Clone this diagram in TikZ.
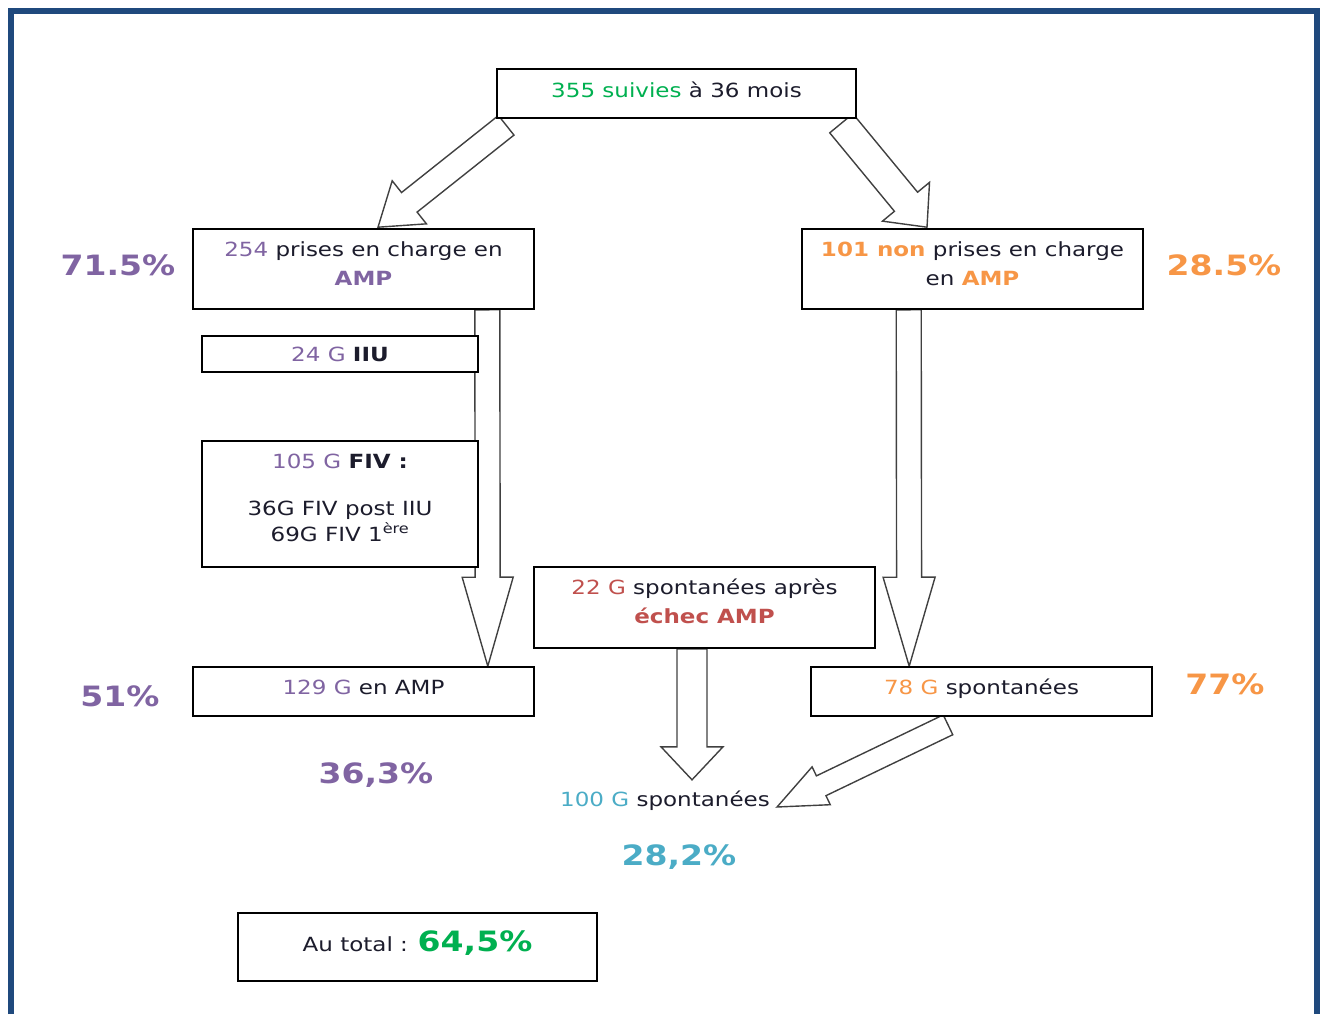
\documentclass[tikz,border=0pt]{standalone}
\usepackage{fontspec}
\setmainfont{DejaVu Sans}[FakeStretch=1.18]
\usetikzlibrary{calc}
\pgfdeclarelayer{fond}
\pgfsetlayers{fond,main}

\definecolor{cadre}{HTML}{1F497D}
\definecolor{violet}{HTML}{8064A2}
\definecolor{orange}{HTML}{F79646}
\definecolor{vert}{HTML}{00B050}
\definecolor{rouge}{HTML}{C0504D}
\definecolor{cyan}{HTML}{4BACC6}
\definecolor{sombre}{HTML}{1C1C2C}

\newcommand\corps{\fontsize{19.5}{29}\selectfont}
\newcommand\grand{\fontsize{28}{32}\selectfont\bfseries}
% box text sits a little above the middle
\newcommand\haut[2][4pt]{\raisebox{#1}[\height][\depth]{\begin{tabular}{@{}c@{}}#2\end{tabular}}}

% tail, tip, half shaft, half head, head length
\newcommand\blocfleche[5]{%
  \coordinate (bf-t) at #1;
  \coordinate (bf-h) at #2;
  \coordinate (bf-n) at ($(bf-h)!#5!(bf-t)$);
  \draw[fleche] ($(bf-t)!#3!90:(bf-h)$) -- ($(bf-n)!#3!90:(bf-h)$)
    -- ($(bf-n)!#4!90:(bf-h)$) -- (bf-h) -- ($(bf-n)!#4!-90:(bf-h)$)
    -- ($(bf-n)!#3!-90:(bf-h)$) -- ($(bf-t)!#3!-90:(bf-h)$) -- cycle;}

\tikzset{
  boite/.style={draw=black, line width=1.6pt, fill=white, inner sep=0pt,
    text=sombre, font=\corps},
  pourcent/.style={anchor=base, inner sep=0pt, font=\grand},
  fleche/.style={draw=black!75, line width=1.4pt, line join=miter}
}

\begin{document}
\begin{tikzpicture}[x=1pt, y=-1pt]
  \useasboundingbox (0,0) rectangle (1324,1014);
  \draw[cadre, line width=6pt] (11,1014) -- (11,11.5) -- (1317,11.5) -- (1317,1014);

  % boxes
  \node[boite, minimum width=359pt, minimum height=49pt] (suivi) at (676.5,93.5)
    {\haut[1.5pt]{\textcolor{vert}{355 suivies} à 36 mois}};
  \node[boite, minimum width=341pt, minimum height=80pt] (amp) at (363.5,269)
    {\haut{\textcolor{violet}{254} prises en charge en\\\textcolor{violet}{\bfseries AMP}}};
  \node[boite, minimum width=341pt, minimum height=80pt] (nonamp) at (972.5,269)
    {\haut{\textcolor{orange}{\bfseries 101 non} prises en charge\\en \textcolor{orange}{\bfseries AMP}}};
  \node[boite, minimum width=276pt, minimum height=36pt] (iiu) at (340,354)
    {\textcolor{violet}{24 G} \textbf{IIU}};
  \node[boite, minimum width=276pt, minimum height=126pt, font=\fontsize{19.5}{24}\selectfont] (fiv) at (340,504)
    {\haut{\textcolor{violet}{105 G} \textbf{FIV :}\\[23pt]36G FIV post IIU\\69G FIV 1\textsuperscript{ère}}};
  \node[boite, minimum width=341pt, minimum height=81pt] (echec) at (704.5,607.5)
    {\haut{\textcolor{rouge}{22 G} spontanées après\\\textcolor{rouge}{\bfseries échec AMP}}};
  \node[boite, minimum width=341pt, minimum height=49pt] (amp129) at (363.5,691.5)
    {\haut[3pt]{\textcolor{violet}{129 G} en AMP}};
  \node[boite, minimum width=341pt, minimum height=49pt] (spont78) at (981.5,691.5)
    {\haut[3pt]{\textcolor{orange}{78 G} spontanées}};
  \node[anchor=base, inner sep=0pt, text=sombre, font=\corps] (spont100) at (665,806.5)
    {\textcolor{cyan}{100 G} spontanées};
  \node[boite, minimum width=359pt, minimum height=68pt] (total) at (417.5,947)
    {\haut[2pt]{Au total : {\grand\color{vert}64,5\%}}};

  % percentages
  \node[pourcent, violet] (p715) at (118,275.5) {71.5\%};
  \node[pourcent, orange] (p285) at (1224,275) {28.5\%};
  \node[pourcent, violet] (p51) at (120,706.5) {51\%};
  \node[pourcent, orange] (p77) at (1225,694.5) {77\%};
  \node[pourcent, violet] (p363) at (376,783.5) {36,3\%};
  \node[pourcent, cyan] (p282) at (679,865) {28,2\%};

  % block arrows
  \begin{pgfonlayer}{fond}
    \blocfleche{($(suivi.south west)+(10,6.5)$)}{($(amp.north)+(14.5,-1)$)}{12.5pt}{27.5pt}{40pt}
    \blocfleche{($(suivi.south east)+(-15.5,4.5)$)}{($(nonamp.north)+(-45.5,-1)$)}{15pt}{30.5pt}{33pt}
    \blocfleche{($(amp.south east)+(-47.5,0)$)}{($(amp129.north east)+(-47,0)$)}{12.5pt}{25.5pt}{89pt}
    \blocfleche{($(nonamp.south west)+(107.5,0)$)}{($(spont78.north west)+(99,0)$)}{12.5pt}{26pt}{89pt}
    \blocfleche{($(echec.south)+(-12.5,0)$)}{($(echec.south)+(-12.5,131)$)}{15pt}{31pt}{33pt}
    \blocfleche{($(spont78.south)+(-33.5,8)$)}{($(spont100.base east)+(7,0.5)$)}{11pt}{21pt}{49pt}
  \end{pgfonlayer}
\end{tikzpicture}
\end{document}
